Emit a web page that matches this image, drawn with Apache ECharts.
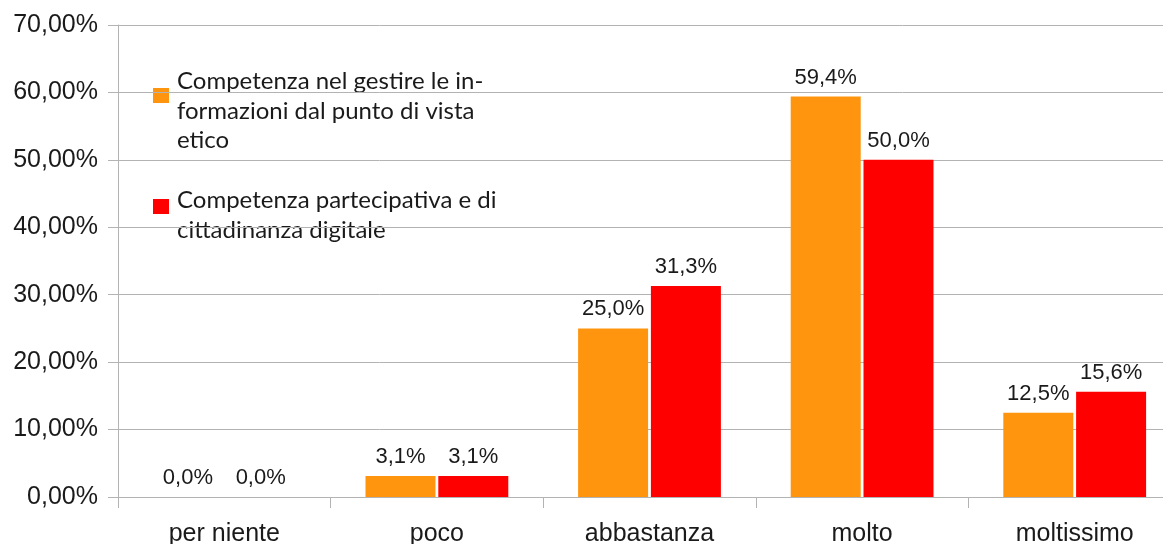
<!DOCTYPE html>
<html>
<head>
<meta charset="utf-8">
<script src="https://cdn.jsdelivr.net/npm/echarts@6/dist/echarts.min.js"></script>
<style>html,body{margin:0;padding:0;background:#fff;overflow:hidden}#c{width:1163px;height:544px}</style>
</head>
<body>
<div id="c"></div>
<script>
const categories = ['per niente', 'poco', 'abbastanza', 'molto', 'moltissimo'];
const seriesNames = [
  'Competenza nel gestire le informazioni dal punto di vista etico',
  'Competenza partecipativa e di cittadinanza digitale'
];
const legendLines = [
  'Competenza nel gestire le in-\nformazioni dal punto di vista\netico',
  'Competenza partecipativa e di\ncittadinanza digitale'
];
const eticoValues = [0.0, 3.1, 25.0, 59.4, 12.5];
const digitaleValues = [0.0, 3.1, 31.3, 50.0, 15.6];
const colors = ['#ff950e', '#ff0000'];

const chart = echarts.init(document.getElementById('c'), null, {renderer: 'canvas'});
const axisFont = 'Liberation Sans';
const gridColor = '#b3b3b3';
const labelFmt = p => p.value.toFixed(1).replace('.', ',') + '%';

function mkSeries(name, data, color) {
  return {
    name: name,
    type: 'bar',
    data: data,
    barWidth: 70,
    barGap: '4%',
    itemStyle: {color: color},
    label: {
      show: true,
      position: 'top',
      distance: 8,
      formatter: labelFmt,
      fontFamily: axisFont,
      fontSize: 22,
      color: '#1a1a1a'
    },
    emphasis: {disabled: true}
  };
}

chart.setOption({
  animation: false,
  grid: {left: 118, top: 25, width: 1063, height: 472, containLabel: false, outerBoundsMode: 'none'},
  xAxis: {
    type: 'category',
    data: categories,
    axisLine: {lineStyle: {color: gridColor}},
    axisTick: {show: true, length: 11, lineStyle: {color: gridColor}},
    axisLabel: {fontFamily: axisFont, fontSize: 25, color: '#1a1a1a', margin: 25}
  },
  yAxis: {
    type: 'value',
    min: 0, max: 70, interval: 10,
    axisLine: {show: true, lineStyle: {color: gridColor}},
    axisTick: {show: true, length: 10, lineStyle: {color: gridColor}},
    splitLine: {lineStyle: {color: gridColor}},
    axisLabel: {
      fontFamily: axisFont, fontSize: 25, color: '#1a1a1a', margin: 20,
      formatter: v => v.toFixed(2).replace('.', ',') + '%'
    }
  },
  series: [
    mkSeries(seriesNames[0], eticoValues, colors[0]),
    mkSeries(seriesNames[1], digitaleValues, colors[1])
  ],
  graphic: [
    {type: 'rect', left: 153, top: 88, shape: {width: 16, height: 15}, style: {fill: colors[0]}},
    {type: 'text', left: 177, top: 67, style: {text: legendLines[0], font: '24px Lato', fill: '#1a1a1a', lineHeight: 29.5}},
    {type: 'rect', left: 153, top: 199, shape: {width: 16, height: 15}, style: {fill: colors[1]}},
    {type: 'text', left: 177, top: 186, style: {text: legendLines[1], font: '24px Lato', fill: '#1a1a1a', lineHeight: 29.5}}
  ]
});
</script>
</body>
</html>
